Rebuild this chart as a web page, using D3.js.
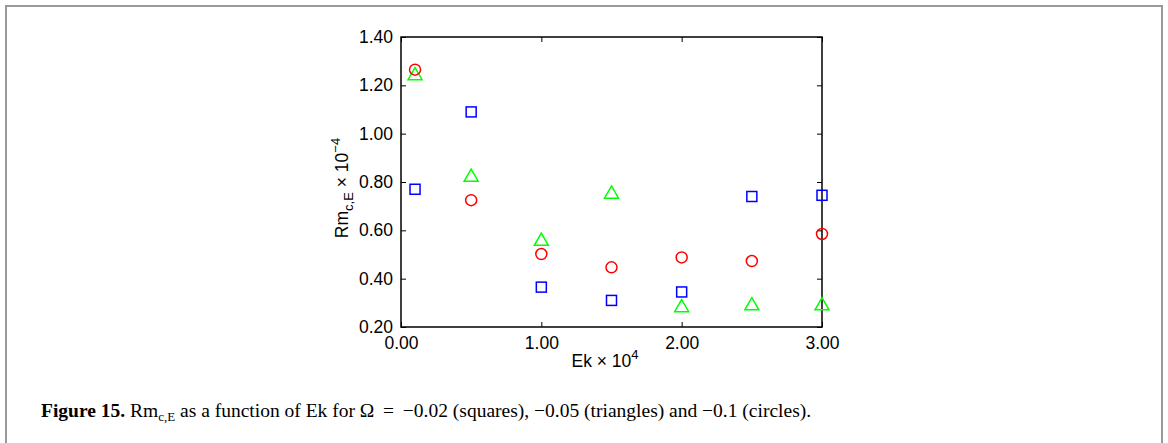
<!DOCTYPE html>
<html>
<head>
<meta charset="utf-8">
<script src="https://cdn.jsdelivr.net/npm/d3@7"></script>
<style>
  body { margin: 0; background: #fff; }
  svg text { font-family: "Liberation Sans", Arial, sans-serif; }
</style>
</head>
<body>
<div id="graph"></div>
<script>
// Ek x 10^4
const ek = [0.1, 0.5, 1.0, 1.5, 2.0, 2.5, 3.0];
// Rm_c,E x 10^-4 for each Omega
const squares = [0.77, 1.09, 0.365, 0.31, 0.345, 0.74, 0.745];     // -0.02
const triangles = [1.24, 0.82, 0.555, 0.75, 0.28, 0.288, 0.288];   // -0.05
const circles = [1.265, 0.725, 0.502, 0.447, 0.488, 0.473, 0.585]; // -0.1
const xTicks = [0, 1, 2, 3];
const yTicks = [0.2, 0.4, 0.6, 0.8, 1.0, 1.2, 1.4];

const width = 1168, height = 443;
const plot = {left: 401, top: 37, right: 822, bottom: 327};

let svg = d3.select("#graph")
    .append("svg")
    .attr("width", width)
    .attr("height", height);

// page frame (open at the bottom)
svg.append("path")
    .attr("d", `M6,${height} V6 H1162 V${height}`)
    .attr("fill", "none")
    .attr("stroke", "#999")
    .attr("stroke-width", 2);

let x = d3.scaleLinear().domain([0, 3]).range([plot.left, plot.right]);
let y = d3.scaleLinear().domain([0.2, 1.4]).range([plot.bottom, plot.top]);

// box
svg.append("rect")
    .attr("x", plot.left)
    .attr("y", plot.top)
    .attr("width", plot.right - plot.left)
    .attr("height", plot.bottom - plot.top)
    .attr("fill", "none")
    .attr("stroke", "#000")
    .attr("stroke-width", 1.5);

// axes with inward ticks
svg.append("g")
    .attr("transform", `translate(0, ${plot.bottom})`)
    .call(d3.axisBottom(x).tickValues(xTicks).tickSizeInner(-5).tickSizeOuter(0).tickPadding(10).tickFormat(d3.format(".2f")))
    .call(g => g.select(".domain").remove());

svg.append("g")
    .attr("transform", `translate(0, ${plot.top})`)
    .call(d3.axisTop(x).tickValues(xTicks).tickSizeInner(-5).tickSizeOuter(0).tickFormat(""))
    .call(g => g.select(".domain").remove());

svg.append("g")
    .attr("transform", `translate(${plot.left}, 0)`)
    .call(d3.axisLeft(y).tickValues(yTicks).tickSizeInner(-5).tickSizeOuter(0).tickPadding(8).tickFormat(d3.format(".2f")))
    .call(g => g.select(".domain").remove());

svg.append("g")
    .attr("transform", `translate(${plot.right}, 0)`)
    .call(d3.axisRight(y).tickValues(yTicks).tickSizeInner(-5).tickSizeOuter(0).tickFormat(""))
    .call(g => g.select(".domain").remove());

svg.selectAll(".tick text").style("font-size", "17.5px").attr("fill", "#000");
svg.selectAll(".tick line").attr("stroke", "#000");

// axis labels
let xl = svg.append("text")
    .attr("x", 605)
    .attr("y", 367)
    .attr("text-anchor", "middle")
    .style("font-size", "17.5px");
xl.append("tspan").text("Ek \u00d7 10");
xl.append("tspan").attr("dy", -8).style("font-size", "13px").text("4");

let yl = svg.append("text")
    .attr("transform", `translate(348, ${(plot.top + plot.bottom) / 2 + 6}) rotate(-90)`)
    .attr("text-anchor", "middle")
    .style("font-size", "17.5px");
yl.append("tspan").text("Rm");
yl.append("tspan").attr("dy", 5).style("font-size", "13px").text("c,E");
yl.append("tspan").attr("dy", -5).text(" \u00d7 10");
yl.append("tspan").attr("dy", -8).style("font-size", "13px").text("\u22124");

// markers
let pts = svg.append("g");

pts.selectAll("rect.sq").data(ek.map((e, i) => [e, squares[i]]))
    .join("rect")
    .attr("class", "sq")
    .attr("x", d => x(d[0]) - 5)
    .attr("y", d => y(d[1]) - 5)
    .attr("width", 10)
    .attr("height", 10)
    .attr("fill", "none")
    .attr("stroke", "#0000ff")
    .attr("stroke-width", 1.5);

let tri = d3.symbol().type(d3.symbolTriangle).size(85);
pts.selectAll("path.tri").data(ek.map((e, i) => [e, triangles[i]]))
    .join("path")
    .attr("class", "tri")
    .attr("d", tri)
    .attr("transform", d => `translate(${x(d[0])}, ${y(d[1])})`)
    .attr("fill", "none")
    .attr("stroke", "#00ff00")
    .attr("stroke-width", 1.5);

pts.selectAll("circle").data(ek.map((e, i) => [e, circles[i]]))
    .join("circle")
    .attr("cx", d => x(d[0]))
    .attr("cy", d => y(d[1]))
    .attr("r", 5.5)
    .attr("fill", "none")
    .attr("stroke", "#ff0000")
    .attr("stroke-width", 1.5);

// caption
let cap = svg.append("text")
    .attr("x", 41)
    .attr("y", 417)
    .style("font-family", "'Liberation Serif', 'Times New Roman', serif")
    .style("font-size", "19.5px");
cap.append("tspan").style("font-weight", "bold").text("Figure 15.");
cap.append("tspan").text(" Rm");
cap.append("tspan").attr("dy", 4).style("font-size", "13px").text("c,E");
cap.append("tspan").attr("dy", -4).text(" as a function of Ek for \u03a9 \u2009=\u2009 \u22120.02 (squares), \u22120.05 (triangles) and \u22120.1 (circles).");
</script>
</body>
</html>
